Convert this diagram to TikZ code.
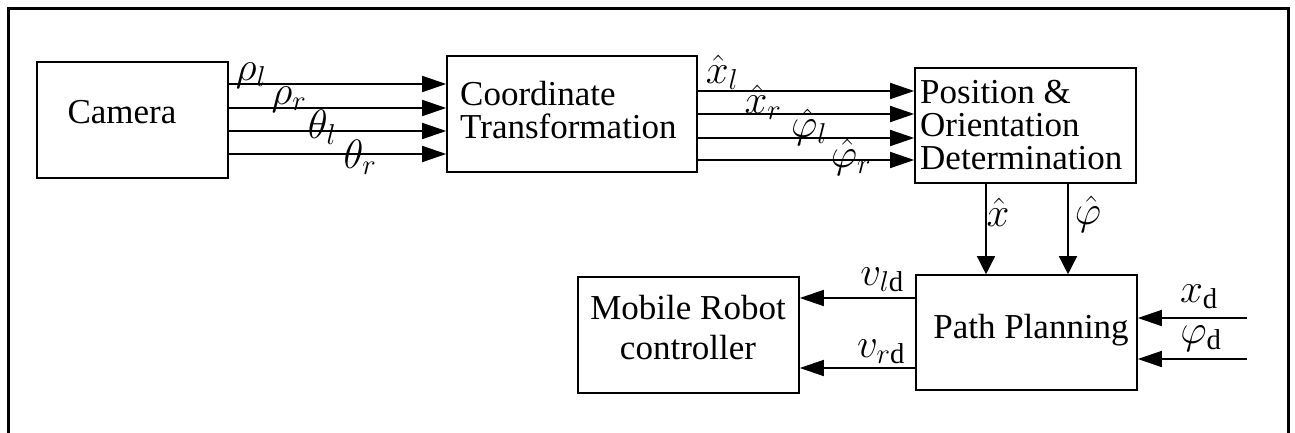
\RequirePackage{fix-cm}
\documentclass[tikz,border=0pt]{standalone}
\usepackage{fontspec}
\setmainfont{Liberation Serif}
\usetikzlibrary{arrows.meta}
\begin{document}
\begin{tikzpicture}[x=1pt,y=-1pt,
  blk/.style={draw,line width=1.6pt,inner sep=0pt},
  txt/.style={font=\fontsize{35}{33}\selectfont,inner sep=0pt},
  lbl/.style={font=\fontsize{41}{41}\selectfont,inner sep=0pt},
  sig/.style={line width=1.5pt,-{Triangle[length=24pt,width=16pt]}},
  sigv/.style={line width=1.5pt,-{Triangle[length=18pt,width=18pt]}}]
\useasboundingbox (0,0) rectangle (1295,433);

% outer frame (open at the bottom)
\draw[line width=3pt] (8,433) -- (8,8.5) -- (1288.5,8.5) -- (1288.5,433);

% blocks
\node[blk,minimum width=191pt,minimum height=116pt] (cam) at (132.5,120) {};
\node[txt] (camtxt) at (122,112) {Camera};

\node[blk,minimum width=250pt,minimum height=116pt] (ct) at (572,114) {};
\node[txt,align=left,anchor=west] (cttxt) at (460,110) {Coordinate\\Transformation};

\node[blk,minimum width=221pt,minimum height=115pt] (pos) at (1025.5,125.5) {};
\node[txt,align=left,anchor=west] (postxt) at (920,125) {Position \&\\Orientation\\Determination};

\node[blk,minimum width=221pt,minimum height=115pt] (pp) at (1026.5,332.5) {};
\node[txt] (pptxt) at (1031,330) {Path Planning};

\node[blk,minimum width=221pt,minimum height=116pt] (mob) at (688.5,335) {};
\node[txt,align=center,font=\fontsize{35}{40}\selectfont] (mobtxt) at (688,328) {Mobile Robot\\controller};

% camera -> coordinate transformation
\foreach \yy in {84,108,131,154}
  \draw[sig] (cam.east |- {0,\yy}) -- (ct.west |- {0,\yy});
\node[lbl] (rl) at (251,76) {$\rho_l$};
\node[lbl] (rr) at (289,100) {$\rho_r$};
\node[lbl] (tl) at (322,127) {$\theta_l$};
\node[lbl] (tr) at (360,157) {$\theta_r$};

% coordinate transformation -> position & orientation
\foreach \yy in {91,114,138,160}
  \draw[sig] (ct.east |- {0,\yy}) -- (pos.west |- {0,\yy});
\node[lbl] (xl) at (722,72) {$\hat{x}_l$};
\node[lbl] (xr) at (763,102) {$\hat{x}_r$};
\node[lbl] (fl) at (809,127) {$\hat{\varphi}_l$};
\node[lbl] (fr) at (851,157) {$\hat{\varphi}_r$};

% position & orientation -> path planning
\draw[sigv] (pos.south -| {986,0}) -- (pp.north -| {986,0});
\draw[sigv] (pos.south -| {1068,0}) -- (pp.north -| {1068,0});
\node[lbl] (xh) at (998,212) {$\hat{x}$};
\node[lbl] (fh) at (1088,214) {$\hat{\varphi}$};

% path planning -> mobile robot controller
\draw[sig] (pp.west |- {0,298}) -- (mob.east |- {0,298});
\draw[sig] (pp.west |- {0,368}) -- (mob.east |- {0,368});
\node[lbl] (vl) at (882,280) {$v_{l\mathrm{d}}$};
\node[lbl] (vr) at (881,352) {$v_{r\mathrm{d}}$};

% desired pose inputs
\coordinate (xin) at (1247,318);
\coordinate (fin) at (1247,359);
\draw[sig] (xin) -- (pp.east |- xin);
\draw[sig] (fin) -- (pp.east |- fin);
\node[lbl] (xd) at (1199,297) {$x_{\mathrm{d}}$};
\node[lbl] (fd) at (1201,339) {$\varphi_{\mathrm{d}}$};
\end{tikzpicture}
\end{document}
